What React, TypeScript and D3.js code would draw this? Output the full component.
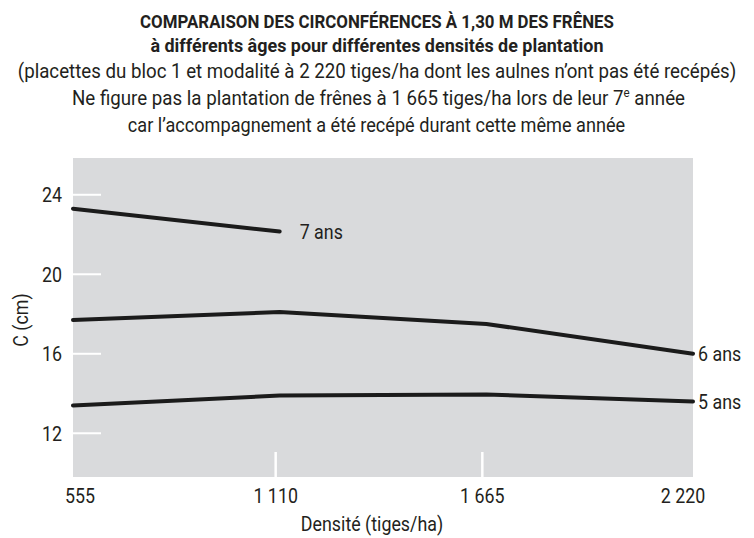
import React, { useLayoutEffect, useRef } from "react";
import * as d3 from "d3";

const densities = ["555", "1 110", "1 665", "2 220"];
const ans7 = [23.3, 22.15];
const ans6 = [17.7, 18.1, 17.5, 16.0];
const ans5 = [13.4, 13.9, 13.95, 13.6];
const yTicks = [12, 16, 20, 24];
const seriesLabels = ["7 ans", "6 ans", "5 ans"];
const titleLines = [
  "COMPARAISON DES CIRCONFÉRENCES À 1,30 M DES FRÊNES",
  "à différents âges pour différentes densités de plantation",
];
const subLines = [
  "(placettes du bloc 1 et modalité à 2 220 tiges/ha dont les aulnes n’ont pas été recépés)",
  "Ne figure pas la plantation de frênes à 1 665 tiges/ha lors de leur 7",
  "car l’accompagnement a été recépé durant cette même année",
];

const W = 754;
const H = 538;
const plot = { left: 73, right: 693, top: 158, bottom: 477 };
const FONT = "Roboto, 'Liberation Sans', sans-serif";
const TXT = "#231f20";
const SX = 0.85;
const FS = 21;

function T(props: {
  x: number;
  y: number;
  anchor?: string;
  rotate?: number;
  size?: number;
  children: React.ReactNode;
}) {
  const { x, y, anchor = "start", rotate = 0, size = FS, children } = props;
  return (
    <text
      transform={`translate(${x},${y}) rotate(${rotate}) scale(${SX},1)`}
      textAnchor={anchor}
      fontSize={size}
      fill={TXT}
    >
      {children}
    </text>
  );
}

// centred text squeezed horizontally to a target width (condensed face look)
function FitText(props: {
  x: number;
  y: number;
  width: number;
  size: number;
  bold?: boolean;
  children: React.ReactNode;
}) {
  const { x, y, width, size, bold, children } = props;
  const ref = useRef<SVGTextElement>(null);
  useLayoutEffect(() => {
    const el = ref.current;
    if (!el) return;
    const len = el.getComputedTextLength();
    const s = len > 0 ? width / len : SX;
    el.setAttribute("transform", `translate(${x},${y}) scale(${s},1)`);
  });
  return (
    <text
      ref={ref}
      transform={`translate(${x},${y}) scale(${SX},1)`}
      textAnchor="middle"
      fontSize={size}
      fontWeight={bold ? "bold" : "normal"}
      fill={TXT}
    >
      {children}
    </text>
  );
}

export default function App() {
  const x = d3.scalePoint<string>().domain(densities).range([plot.left, plot.right]);
  const y = d3.scaleLinear().domain([9.8, 25.85]).range([plot.bottom, plot.top]);
  const line = d3
    .line<[string, number]>()
    .x((d) => x(d[0]) as number)
    .y((d) => y(d[1]));

  const series = [ans7, ans6, ans5].map((vals) =>
    vals.map((v, i) => [densities[i], v] as [string, number])
  );

  const nudge = (i: number) => (i === 0 ? 7 : i === densities.length - 1 ? -10 : -4);

  return (
    <svg
      width={W}
      height={H}
      style={{ position: "absolute", left: 0, top: 0 }}
      fontFamily={FONT}
    >
      <rect width={W} height={H} fill="#fff" />
      {/* title */}
      <FitText x={377} y={28} width={474} size={18.5} bold>
        {titleLines[0]}
      </FitText>
      <FitText x={377} y={52} width={453} size={18.5} bold>
        {titleLines[1]}
      </FitText>
      <FitText x={377} y={78} width={718} size={FS}>
        {subLines[0]}
      </FitText>
      <FitText x={378.5} y={105} width={613} size={FS}>
        {subLines[1]}
        <tspan fontSize={13} dy={-8}>e</tspan>
        <tspan dy={8}> année</tspan>
      </FitText>
      <FitText x={376.5} y={132} width={497} size={FS}>
        {subLines[2]}
      </FitText>

      {/* plot background */}
      <rect
        x={plot.left}
        y={plot.top}
        width={plot.right - plot.left}
        height={plot.bottom - plot.top}
        fill="#d9dadc"
      />

      {/* y ticks */}
      {yTicks.map((t) => (
        <g key={t}>
          <line
            x1={plot.left}
            x2={plot.left + 28}
            y1={y(t)}
            y2={y(t)}
            stroke="#fff"
            strokeWidth={2}
          />
          <T x={62} y={y(t) + 7.5} anchor="end">{t}</T>
        </g>
      ))}

      {/* x ticks */}
      {densities.map((d, i) => (
        <g key={d}>
          {i > 0 && i < densities.length - 1 && (
            <line
              x1={(x(d) as number) + nudge(i)}
              x2={(x(d) as number) + nudge(i)}
              y1={plot.bottom}
              y2={plot.bottom - 25}
              stroke="#fff"
              strokeWidth={2.5}
            />
          )}
          <T x={(x(d) as number) + nudge(i)} y={503} anchor="middle">{d}</T>
        </g>
      ))}

      {/* series lines */}
      {series.map((s, i) => (
        <path
          key={i}
          d={line(s) || ""}
          fill="none"
          stroke="#1b1b1b"
          strokeWidth={4}
          strokeLinecap="round"
          strokeLinejoin="round"
        />
      ))}

      {/* series labels */}
      {series.map((s, i) => {
        const last = s[s.length - 1];
        return (
          <T key={i} x={(x(last[0]) as number) + (i === 0 ? 20 : 5)} y={y(last[1]) + 7.5}>
            {seriesLabels[i]}
          </T>
        );
      })}

      {/* axis titles */}
      <T x={28} y={320} rotate={-90} anchor="middle">C (cm)</T>
      <T x={372} y={531} anchor="middle">Densité (tiges/ha)</T>
    </svg>
  );
}
